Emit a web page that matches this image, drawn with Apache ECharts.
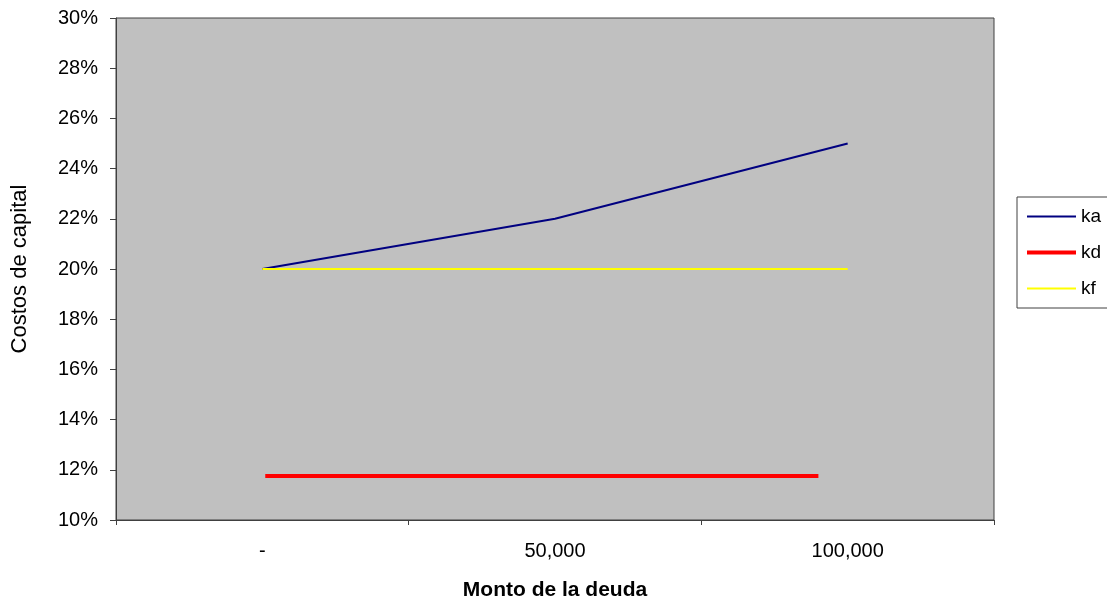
<!DOCTYPE html>
<html>
<head>
<meta charset="utf-8">
<script src="https://cdn.jsdelivr.net/npm/echarts@6/dist/echarts.min.js"></script>
<style>
  html, body { margin: 0; padding: 0; background: #fff; }
  #chart { width: 1107px; height: 607px; }
</style>
</head>
<body>
<div id="chart"></div>
<script>
// Debt amounts (category axis) and cost of capital in percent
const categories = ['-', '50,000', '100,000'];
const ka = [20, 22, 25];
const kf = [20, 20, 20];
// kd is drawn against a debt-amount scale (same span as the category bands)
const kdDebt = [500, 95000];
const kdCost = [11.75, 11.75];
const yTicks = { min: 10, max: 30, step: 2 };

const FONT = '"Liberation Sans", Arial, sans-serif';
const chart = echarts.init(document.getElementById('chart'), null, { renderer: 'canvas' });

chart.setOption({
  animation: false,
  textStyle: { fontFamily: FONT },
  grid: {
    left: 116, right: 113, top: 18, bottom: 87,
    show: true, backgroundColor: '#c0c0c0', borderColor: '#404040', borderWidth: 1
  },
  legend: {
    orient: 'vertical',
    left: 1017, top: 197,
    padding: [10, 30, 10, 8],
    itemGap: 17,
    itemWidth: 49, itemHeight: 20,
    borderColor: '#404040', borderWidth: 1,
    backgroundColor: '#fff',
    itemStyle: { opacity: 0 },
    textStyle: { fontFamily: FONT, fontSize: 19, color: '#000' },
    data: [
      { name: 'ka', lineStyle: { width: 2 } },
      { name: 'kd', lineStyle: { width: 4 } },
      { name: 'kf', lineStyle: { width: 2 } }
    ]
  },
  xAxis: [
    {
      type: 'category',
      data: categories,
      boundaryGap: true,
      name: 'Monto de la deuda',
      nameLocation: 'middle',
      nameGap: 60,
      nameTextStyle: { fontFamily: FONT, fontSize: 21, fontWeight: 'bold', color: '#000' },
      axisLine: { lineStyle: { color: '#404040', width: 1 } },
      axisTick: { show: true, length: 5, alignWithLabel: false, lineStyle: { color: '#404040' } },
      axisLabel: { fontFamily: FONT, fontSize: 20, color: '#000', margin: 21 },
      splitLine: { show: false }
    },
    {
      type: 'value',
      min: -25000, max: 125000,
      show: false,
      position: 'bottom'
    }
  ],
  yAxis: {
    type: 'value',
    min: yTicks.min, max: yTicks.max, interval: yTicks.step,
    name: 'Costos de capital',
    nameLocation: 'middle',
    nameGap: 85,
    nameRotate: 90,
    nameTextStyle: { fontFamily: FONT, fontSize: 22, color: '#000' },
    axisLine: { show: true, onZero: false, lineStyle: { color: '#404040', width: 1 } },
    axisTick: { show: true, length: 6, inside: false, lineStyle: { color: '#404040' } },
    axisLabel: { fontFamily: FONT, fontSize: 20, color: '#000', margin: 18, formatter: '{value}%' },
    splitLine: { show: false }
  },
  series: [
    {
      name: 'ka', type: 'line', data: ka, xAxisIndex: 0,
      symbol: 'none', color: '#000080',
      lineStyle: { color: '#000080', width: 2 }
    },
    {
      name: 'kd', type: 'line', xAxisIndex: 1,
      data: kdDebt.map((d, i) => [d, kdCost[i]]),
      symbol: 'none', color: '#ff0000',
      lineStyle: { color: '#ff0000', width: 4 }
    },
    {
      name: 'kf', type: 'line', data: kf, xAxisIndex: 0,
      symbol: 'none', color: '#ffff00',
      lineStyle: { color: '#ffff00', width: 2 }
    }
  ]
});
</script>
</body>
</html>
